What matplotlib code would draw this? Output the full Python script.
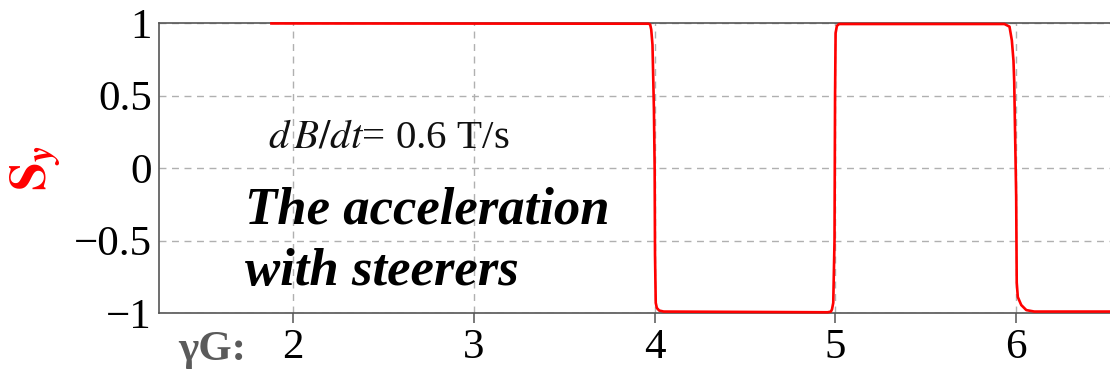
import matplotlib
matplotlib.use("Agg")
import matplotlib.pyplot as plt

# ---- data ----
gammaG = [1.88, 3.966, 3.975, 3.981, 3.988, 3.996, 4.0, 4.002, 4.006, 4.012, 4.025, 4.05,
          4.957, 4.975, 4.981, 4.988, 4.995, 4.998, 5.001, 5.008, 5.02,
          5.935, 5.963, 5.976, 5.985, 5.989, 6.0, 6.003, 6.009, 6.028, 6.056, 6.1, 6.53]
Sy = [0.997, 0.995, 0.99, 0.955, 0.85, 0.4, 0.0, -0.6, -0.93, -0.965, -0.983, -0.99,
      -0.995, -0.99, -0.975, -0.93, -0.5, 0.5, 0.93, 0.98, 0.993,
      0.993, 0.975, 0.88, 0.74, 0.6, -0.2, -0.79, -0.89, -0.945, -0.98, -0.99, -0.99]
x_ticks = [2, 3, 4, 5, 6]
y_ticks = [-1, -0.5, 0, 0.5, 1]
y_ticklabels = ["\u22121", "\u22120.5", "0", "0.5", "1"]

W, H = 1110, 371
fig = plt.figure(figsize=(W / 100, H / 100), dpi=100)
left, right, top, bottom = 159, 1110, 23, 313
ax = fig.add_axes([left / W, 1 - bottom / H, (right - left) / W, (bottom - top) / H])

ax.plot(gammaG, Sy, color="#ff0000", lw=1.9, clip_on=False, zorder=3)

ax.set_xlim(1.258, 6.519)
ax.set_ylim(-1, 1)
ax.set_xticks(x_ticks)
ax.set_xticklabels([str(t) for t in x_ticks])
ax.set_yticks(y_ticks)
ax.set_yticklabels(y_ticklabels)

for lab in ax.get_xticklabels() + ax.get_yticklabels():
    lab.set_fontfamily("Liberation Serif")
    lab.set_fontsize(31)
    lab.set_color("black")

ax.tick_params(axis="x", direction="out", length=7.2, width=1.1, color="#555555", pad=4)
ax.tick_params(axis="y", length=0, pad=5)

ax.grid(True, color="#b0b0b0", lw=1.0, linestyle=(0, (5, 4)))
ax.set_axisbelow(True)
for s in ["left", "bottom", "top"]:
    ax.spines[s].set_color("#555555")
    ax.spines[s].set_linewidth(1.2)
ax.spines["right"].set_visible(False)

# axis labels
fig.text(36 / W, 1 - 168 / H, r"$\mathbf{S}_{\mathbfit{y}}$", rotation=90,
         ha="center", va="center", color="#ff0000", fontsize=37, math_fontfamily="stix")
fig.text(178 / W, 1 - 360 / H, "\u03b3G:", family="Liberation Serif", weight="bold",
         color="#5a5a5a", fontsize=31, ha="left", va="baseline")

# annotations
fig.text(268 / W, 1 - 147 / H, r"$d\,B/dt$= 0.6 T/s", family="Liberation Serif",
         math_fontfamily="stix", fontsize=29.5, color="#111111", ha="left", va="baseline")
fig.text(245 / W, 1 - 223 / H, "The acceleration", family="Liberation Serif",
         weight="bold", style="italic", fontsize=38, color="black", ha="left", va="baseline")
fig.text(245 / W, 1 - 285 / H, "with steerers", family="Liberation Serif",
         weight="bold", style="italic", fontsize=38, color="black", ha="left", va="baseline")

fig.savefig("out.png", dpi=100)
